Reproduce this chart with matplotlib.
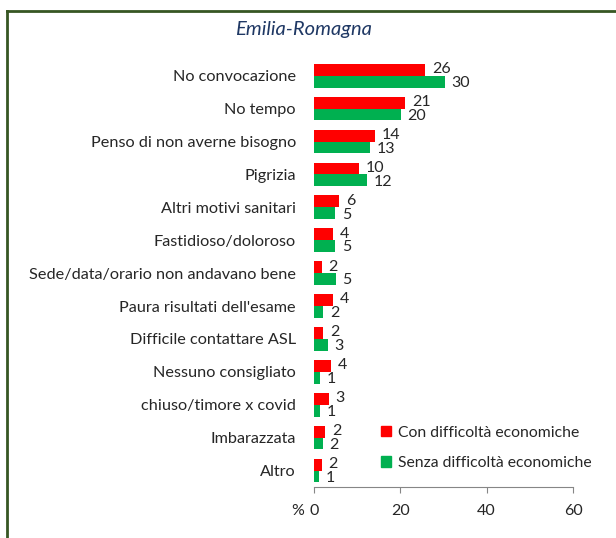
import matplotlib
matplotlib.use("Agg")
from matplotlib import pyplot as plt
from matplotlib.lines import Line2D
from matplotlib.patches import Patch
import numpy as np

plt.rcParams['font.family'] = ['Lato', 'DejaVu Sans']

categories = ["No convocazione", "No tempo", "Penso di non averne bisogno",
              "Pigrizia", "Altri motivi sanitari", "Fastidioso/doloroso",
              "Sede/data/orario non andavano bene", "Paura risultati dell'esame",
              "Difficile contattare ASL", "Nessuno consigliato",
              "chiuso/timore x covid", "Imbarazzata", "Altro"]
con_diff = [25.8, 21.2, 14.1, 10.4, 5.9, 4.4, 1.8, 4.4, 2.1, 3.9, 3.4, 2.5, 1.8]
senza_diff = [30.3, 20.1, 13.0, 12.3, 4.9, 4.8, 5.0, 2.2, 3.2, 1.3, 1.4, 2.0, 1.1]
series_names = ["Con difficoltà economiche", "Senza difficoltà economiche"]
xticks = [0, 20, 40, 60]

red = "#FF0000"
green = "#00B050"

fig = plt.figure(figsize=(6.16, 5.38), dpi=100)
ax = fig.add_axes([0.5097, 0.0948, 0.4205, 0.795])

y = np.arange(len(categories))
h = 0.36
ax.barh(y - 0.18, con_diff, height=h, color=red)
ax.barh(y + 0.18, senza_diff, height=h, color=green)

for i in range(len(categories)):
    ax.annotate(str(int(round(con_diff[i]))), xy=(con_diff[i], y[i] - 0.2),
                xytext=(5, 0), textcoords="offset points", va="center",
                ha="left", fontsize=11.5, color="#262626")
    ax.annotate(str(int(round(senza_diff[i]))), xy=(senza_diff[i], y[i] + 0.22),
                xytext=(5, 0), textcoords="offset points", va="center",
                ha="left", fontsize=11.5, color="#262626")

ax.set_ylim(len(categories) - 0.5, -0.5)
ax.set_xlim(0, 60)
ax.set_yticks(y)
ax.set_yticklabels(categories, fontsize=11.7, color="#262626")
ax.set_xticks(xticks)
ax.set_xticklabels([str(t) for t in xticks], fontsize=11.5, color="#262626")
ax.tick_params(axis="y", length=0, pad=13)
ax.tick_params(axis="x", length=4, color="#868686", pad=8)
for s in ["top", "right", "left"]:
    ax.spines[s].set_visible(False)
ax.spines["bottom"].set_color("#868686")
ax.annotate("%", xy=(0, 0), xycoords="axes fraction", xytext=(-12, -17),
            textcoords="offset points", ha="center", va="center",
            fontsize=11.5, color="#262626")

handles = [Patch(color=red), Patch(color=green)]
ax.legend(handles, series_names, loc="lower left", bbox_to_anchor=(0.205, 0.007),
          frameon=False, fontsize=11.3, handlelength=0.65, handleheight=0.65,
          handletextpad=0.45, labelspacing=1.03, labelcolor="#262626")

fig.text(0.493, 0.945, "Emilia-Romagna", ha="center", va="center",
         fontsize=14.5, style="italic", color="#1F3864")

# frame
fig.add_artist(Line2D([7/616, 7/616], [0, 1 - 11/538], color="#375623", lw=2))
fig.add_artist(Line2D([7/616, 1], [1 - 11/538, 1 - 11/538], color="#375623", lw=2))

fig.savefig("out.png", dpi=100)
